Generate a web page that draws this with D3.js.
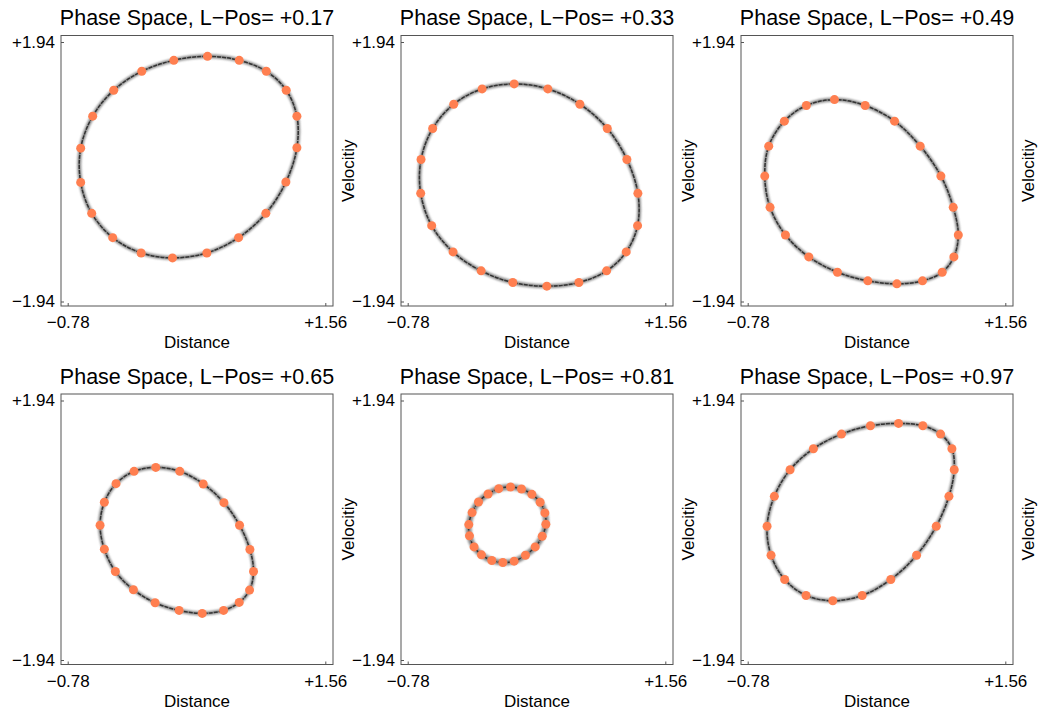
<!DOCTYPE html>
<html lang="en">
  <head>
    <meta charset="UTF-8" />
    <script src="https://d3js.org/d3.v7.min.js"></script>
    <title>Phase Space</title>
    <style>
      body { margin: 0; background: #fff; }
      text { font-family: "Liberation Sans", Arial, sans-serif; fill: #000; }
    </style>
  </head>
  <body>
    <div id="chart-container"></div>

    <script>
      // panel labels
      const lPos = ["+0.17", "+0.33", "+0.49", "+0.65", "+0.81", "+0.97"];

      // axis ticks
      const xTicks = [-0.78, 1.56];
      const xTickLabels = ["\u22120.78", "+1.56"];
      const yTicks = [-1.94, 1.94];
      const yTickLabels = ["\u22121.94", "+1.94"];

      const dist_017 = [0.490, 0.778, 1.024, 1.205, 1.302, 1.302, 1.202, 1.020, 0.772, 0.484,
                        0.172, -0.113, -0.371, -0.562, -0.662, -0.662, -0.553, -0.362, -0.107, 0.184];
      const vel_017 = [1.726, 1.666, 1.502, 1.219, 0.831, 0.358, -0.154, -0.622, -0.985, -1.214,
                       -1.288, -1.214, -0.985, -0.622, -0.159, 0.353, 0.831, 1.219, 1.502, 1.666];

      const dist_033 = [0.187, 0.493, 0.784, 1.033, 1.211, 1.311, 1.308, 1.205, 1.027, 0.775,
                        0.484, 0.175, -0.113, -0.368, -0.562, -0.662, -0.659, -0.553, -0.362, -0.104];
      const vel_033 = [1.313, 1.239, 1.010, 0.647, 0.184, -0.323, -0.806, -1.199, -1.482, -1.656,
                       -1.711, -1.656, -1.482, -1.199, -0.806, -0.323, 0.184, 0.647, 1.010, 1.239];

      const dist_049 = [0.008, 0.287, 0.554, 0.787, 0.975, 1.087, 1.133, 1.093, 0.987, 0.808,
                        0.575, 0.311, 0.035, -0.225, -0.437, -0.577, -0.625, -0.589, -0.447, -0.247];
      const vel_049 = [1.079, 0.990, 0.756, 0.383, -0.065, -0.532, -0.945, -1.273, -1.502, -1.631,
                       -1.676, -1.631, -1.502, -1.273, -0.945, -0.532, -0.065, 0.383, 0.756, 0.990];

      const dist_065 = [0.020, 0.238, 0.451, 0.639, 0.781, 0.875, 0.908, 0.872, 0.778, 0.636,
                        0.442, 0.232, 0.014, -0.183, -0.347, -0.447, -0.486, -0.447, -0.341, -0.177];
      const vel_065 = [0.940, 0.881, 0.692, 0.413, 0.075, -0.288, -0.617, -0.895, -1.079, -1.199,
                       -1.243, -1.199, -1.084, -0.890, -0.617, -0.283, 0.075, 0.418, 0.697, 0.881];

      const dist_081 = [0.154, 0.254, 0.348, 0.423, 0.466, 0.475, 0.442, 0.378, 0.290, 0.187,
                        0.084, -0.016, -0.110, -0.177, -0.219, -0.225, -0.195, -0.137, -0.050, 0.047];
      const vel_081 = [0.647, 0.617, 0.537, 0.418, 0.259, 0.090, -0.089, -0.249, -0.373, -0.462,
                       -0.482, -0.452, -0.368, -0.249, -0.084, 0.085, 0.264, 0.423, 0.542, 0.622];

      const dist_097 = [0.590, 0.811, 0.972, 1.075, 1.096, 1.048, 0.933, 0.754, 0.520, 0.260,
                        -0.007, -0.250, -0.444, -0.568, -0.604, -0.538, -0.395, -0.183, 0.072, 0.335];
      const vel_097 = [1.597, 1.562, 1.438, 1.219, 0.905, 0.507, 0.060, -0.373, -0.736, -0.975,
                       -1.054, -0.975, -0.736, -0.373, 0.060, 0.507, 0.905, 1.219, 1.438, 1.562];

      const distances = [dist_017, dist_033, dist_049, dist_065, dist_081, dist_097];
      const velocities = [vel_017, vel_033, vel_049, vel_065, vel_081, vel_097];

      // layout
      const frameW = 272;
      const frameH = 270.5;
      const colX = [61, 401, 741];
      const rowY = [35.5, 394];

      const svg = d3
        .select("#chart-container")
        .append("svg")
        .attr("width", 1038)
        .attr("height", 713);

      svg
        .append("defs")
        .append("filter")
        .attr("id", "soft")
        .attr("x", "-20%")
        .attr("y", "-20%")
        .attr("width", "140%")
        .attr("height", "140%")
        .append("feGaussianBlur")
        .attr("stdDeviation", 1.1);

      const x = d3.scaleLinear().domain(d3.extent(xTicks)).range([6.7, 264.3]);
      const y = d3.scaleLinear().domain(d3.extent(yTicks)).range([266, 6.5]);

      const line = d3
        .line()
        .x((d) => x(d[0]))
        .y((d) => y(d[1]))
        .curve(d3.curveCatmullRomClosed.alpha(0.5));

      lPos.forEach((label, i) => {
        const g = svg
          .append("g")
          .attr("transform", `translate(${colX[i % 3]},${rowY[Math.floor(i / 3)]})`);

        const pts = distances[i].map((d, j) => [d, velocities[i][j]]);

        // blurred trace under a darker core
        g.append("path")
          .datum(pts)
          .attr("fill", "none")
          .attr("stroke", "#6e6e6e")
          .attr("stroke-width", i === 4 ? 6 : 4)
          .attr("opacity", 0.8)
          .attr("filter", "url(#soft)")
          .attr("d", line);

        g.append("path")
          .datum(pts)
          .attr("fill", "none")
          .attr("stroke", "#333")
          .attr("stroke-width", 1.5)
          .attr("stroke-dasharray", "4 1")
          .attr("d", line);

        g.selectAll("circle")
          .data(pts)
          .join("circle")
          .attr("cx", (d) => x(d[0]))
          .attr("cy", (d) => y(d[1]))
          .attr("r", 4.5)
          .attr("fill", "#ff7f50");

        // axes
        const yAxis = g
          .append("g")
          .call(
            d3
              .axisLeft(y)
              .tickValues(yTicks)
              .tickFormat((d, k) => yTickLabels[k])
              .tickSizeInner(-3)
              .tickSizeOuter(0)
              .tickPadding(6)
          )
          .attr("font-size", 17)
          .attr("font-family", '"Liberation Sans", Arial, sans-serif');

        const xAxis = g
          .append("g")
          .attr("transform", `translate(0,${frameH})`)
          .call(
            d3
              .axisBottom(x)
              .tickValues(xTicks)
              .tickFormat((d, k) => xTickLabels[k])
              .tickSizeInner(-3)
              .tickSizeOuter(0)
              .tickPadding(10)
          )
          .attr("font-size", 17)
          .attr("font-family", '"Liberation Sans", Arial, sans-serif');

        [xAxis, yAxis].forEach((a) => {
          a.select(".domain").remove();
          a.selectAll("line").attr("stroke", "#555");
          a.selectAll("text").attr("fill", "#000");
        });

        // frame
        g.append("rect")
          .attr("width", frameW)
          .attr("height", frameH)
          .attr("fill", "none")
          .attr("stroke", "#555")
          .attr("stroke-width", 1);

        g.append("text")
          .attr("x", frameW / 2)
          .attr("y", -10.5)
          .attr("text-anchor", "middle")
          .attr("font-size", 21.5)
          .text(`Phase Space, L\u2212Pos= ${label}`);

        g.append("text")
          .attr("x", frameW / 2)
          .attr("y", frameH + 42)
          .attr("text-anchor", "middle")
          .attr("font-size", 17)
          .text("Distance");

        g.append("text")
          .attr("transform", `translate(${frameW + 20.5},${frameH / 2}) rotate(-90)`)
          .attr("text-anchor", "middle")
          .attr("font-size", 17)
          .text("Velocitiy");
      });
    </script>
  </body>
</html>
